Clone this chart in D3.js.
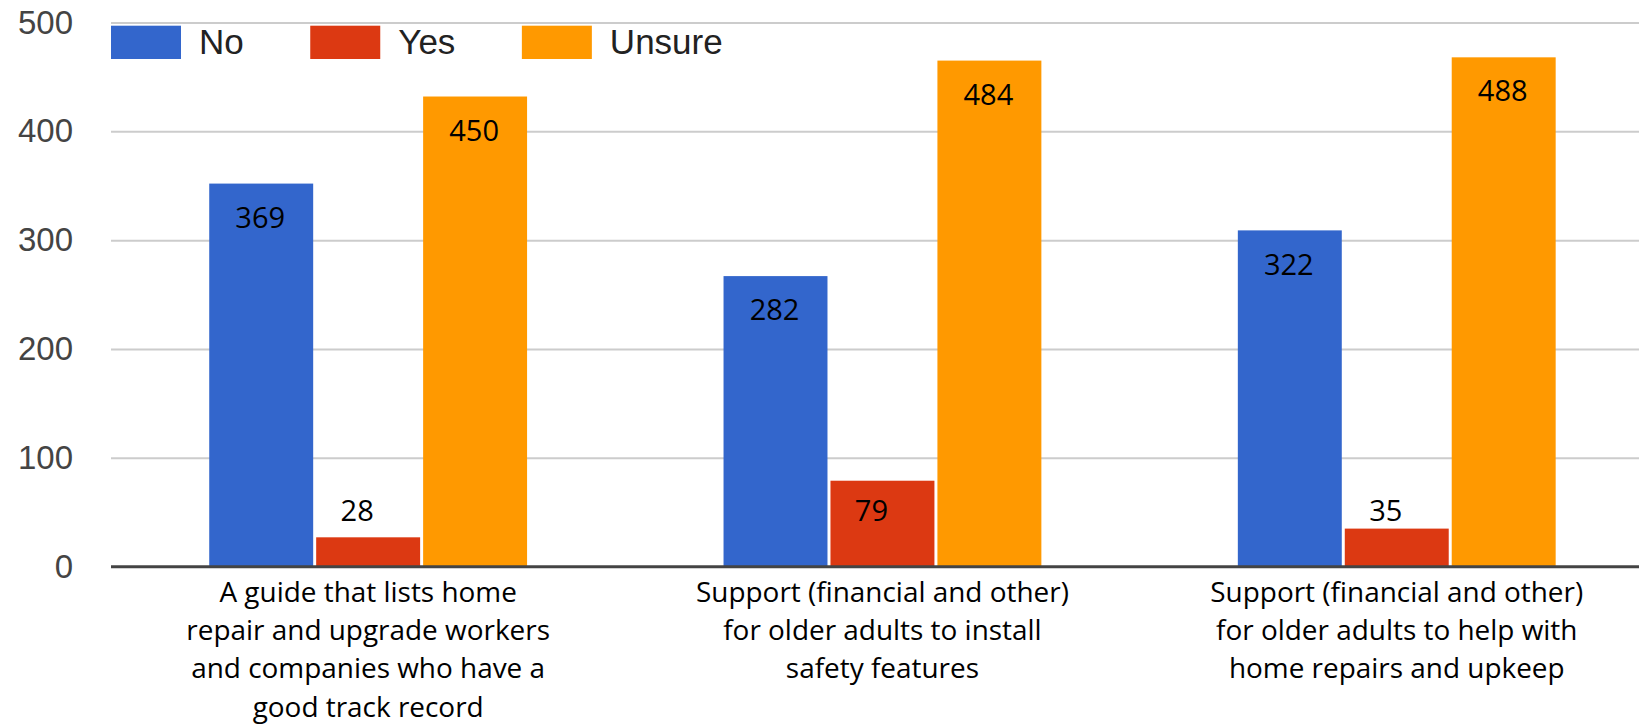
<!DOCTYPE html>
<html>
<head>
<meta charset="utf-8">
<script src="https://cdn.jsdelivr.net/npm/d3@7"></script>
<style>
  html, body { margin: 0; padding: 0; background: #fff; overflow: hidden; }
  svg { display: block; }
</style>
</head>
<body>
<svg id="chart" width="1639" height="724"></svg>
<script>
// ---------------- DATA ----------------
const categoryLines = [
  ["A guide that lists home", "repair and upgrade workers", "and companies who have a", "good track record"],
  ["Support (financial and other)", "for older adults to install", "safety features"],
  ["Support (financial and other)", "for older adults to help with", "home repairs and upkeep"]
];
const seriesNames = ["No", "Yes", "Unsure"];
// bar heights
const noValues = [352, 267, 309];
const yesValues = [27, 79, 35];
const unsureValues = [432, 465, 468];
// value labels printed on the bars
const noLabels = ["369", "282", "322"];
const yesLabels = ["28", "79", "35"];
const unsureLabels = ["450", "484", "488"];
const yTicks = [0, 100, 200, 300, 400, 500];
const seriesColors = ["#3366CC", "#DC3912", "#FF9900"];

// ---------------- LAYOUT ----------------
const W = 1639, H = 724;
const plotLeft = 111, step = 514.3;
const svg = d3.select("#chart");

const seriesValues = [noValues, yesValues, unsureValues];
const seriesLabels = [noLabels, yesLabels, unsureLabels];

const x0 = d3.scaleBand()
  .domain(d3.range(categoryLines.length))
  .range([plotLeft, plotLeft + step * categoryLines.length])
  .paddingInner(0.382)
  .paddingOuter(0.191);
const x1 = d3.scaleBand()
  .domain(seriesNames)
  .range([0, x0.bandwidth()])
  .paddingInner(0.028);
const y = d3.scaleLinear().domain([0, 500]).range([566.7, 22.5]);

// gridlines
const grid = svg.append("g")
  .attr("transform", `translate(${plotLeft},0)`)
  .call(d3.axisLeft(y).tickValues(yTicks.filter(t => t !== 0)).tickSize(-(W - plotLeft)).tickFormat(""));
grid.select(".domain").remove();
grid.selectAll("line").attr("stroke", "#cccccc").attr("stroke-width", 2);

// y tick labels
const yAxis = svg.append("g")
  .attr("transform", `translate(${plotLeft},0)`)
  .call(d3.axisLeft(y).tickValues(yTicks).tickSize(0).tickPadding(38));
yAxis.select(".domain").remove();
yAxis.selectAll("text")
  .attr("font-family", "'Liberation Sans', Arial, sans-serif")
  .attr("font-size", 33)
  .attr("fill", "#444");

// legend
const legend = svg.append("g").attr("class", "legend");
let lx = plotLeft;
seriesNames.forEach((name, i) => {
  const g = legend.append("g").attr("transform", `translate(${lx},0)`);
  g.append("rect").attr("x", 0).attr("y", 25.7).attr("width", 70).attr("height", 33.3)
    .attr("fill", seriesColors[i]);
  const t = g.append("text").attr("x", 88).attr("y", 53.5)
    .attr("font-family", "'Liberation Sans', Arial, sans-serif")
    .attr("font-size", 35).attr("fill", "#222").text(name);
  lx += 88 + t.node().getComputedTextLength() + 66.5;
});

// bars
const groups = svg.append("g").selectAll("g")
  .data(d3.range(categoryLines.length))
  .join("g")
  .attr("transform", d => `translate(${x0(d)},0)`);

groups.selectAll("rect")
  .data(ci => seriesNames.map((s, si) => ({ s, si, v: seriesValues[si][ci], label: seriesLabels[si][ci] })))
  .join("rect")
  .attr("x", d => x1(d.s))
  .attr("width", x1.bandwidth())
  .attr("y", d => y(d.v))
  .attr("height", d => y(0) - y(d.v))
  .attr("fill", d => seriesColors[d.si]);

// value labels
groups.selectAll("text.val")
  .data(ci => seriesNames.map((s, si) => ({ s, si, v: seriesValues[si][ci], label: seriesLabels[si][ci] })))
  .join("text")
  .attr("class", "val")
  .attr("x", d => x1(d.s) + x1.bandwidth() / 2 + (d.v < 100 ? -11 : -1))
  .attr("y", d => d.v < 100 ? y(51) : y(d.v) + 34)
  .attr("dy", "0.35em")
  .attr("text-anchor", "middle")
  .attr("font-family", "'Open Sans', sans-serif")
  .attr("font-size", 29)
  .attr("fill", "#000")
  .text(d => d.label);

// zero axis line
svg.append("line")
  .attr("x1", plotLeft).attr("x2", W)
  .attr("y1", y(0)).attr("y2", y(0))
  .attr("stroke", "#444").attr("stroke-width", 3);

// category labels (fit font size to measured line width)
const catFont = "'Open Sans', sans-serif";
const probe = svg.append("text").attr("font-family", catFont).attr("font-size", 100)
  .text("Support (financial and other)");
const catSize = 373 / probe.node().getComputedTextLength() * 100;
probe.remove();

const catG = svg.append("g");
categoryLines.forEach((lines, ci) => {
  const t = catG.append("text")
    .attr("x", x0(ci) + x0.bandwidth() / 2)
    .attr("y", 601.5)
    .attr("text-anchor", "middle")
    .attr("font-family", catFont)
    .attr("font-size", catSize)
    .attr("fill", "#000");
  lines.forEach((ln, li) => {
    t.append("tspan")
      .attr("x", x0(ci) + x0.bandwidth() / 2)
      .attr("y", 601.5 + li * 38.4)
      .text(ln);
  });
});
</script>
</body>
</html>
